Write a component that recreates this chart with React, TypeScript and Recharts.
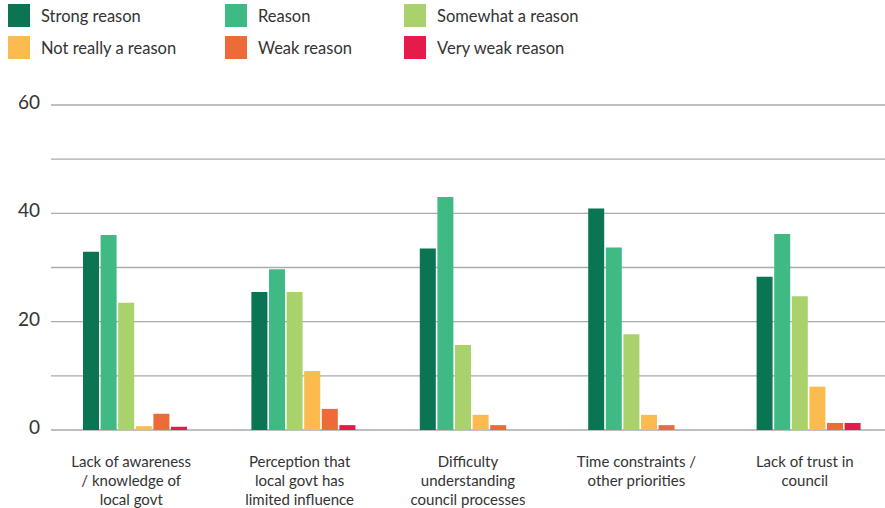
import { BarChart, Bar, XAxis, YAxis, CartesianGrid } from 'recharts';

const categories = [
  'Lack of awareness / knowledge of local govt',
  'Perception that local govt has limited influence',
  'Difficulty understanding council processes',
  'Time constraints / other priorities',
  'Lack of trust in council',
];

const categoryLines = [
  ['Lack of awareness', '/ knowledge of', 'local govt'],
  ['Perception that', 'local govt has', 'limited influence'],
  ['Difficulty', 'understanding', 'council processes'],
  ['Time constraints /', 'other priorities'],
  ['Lack of trust in', 'council'],
];

const seriesNames = [
  'Strong reason',
  'Reason',
  'Somewhat a reason',
  'Not really a reason',
  'Weak reason',
  'Very weak reason',
];

const seriesColors = ['#0b7452', '#3fba85', '#a9d26c', '#fbbb4f', '#ed6b38', '#e61b4b'];

const strongReason = [32.9, 25.5, 33.5, 40.9, 28.3];
const reason = [36.0, 29.7, 43.0, 33.7, 36.2];
const somewhatReason = [23.5, 25.5, 15.7, 17.7, 24.7];
const notReallyReason = [0.7, 10.9, 2.8, 2.8, 8.0];
const weakReason = [3.0, 3.9, 0.9, 0.9, 1.3];
const veryWeakReason = [0.6, 0.9, 0, 0, 1.3];

const yTicks = [0, 10, 20, 30, 40, 50, 60];
const yLabelled = [0, 20, 40, 60];

const seriesValues = [strongReason, reason, somewhatReason, notReallyReason, weakReason, veryWeakReason];

const data = categories.map((c, i) => {
  const row: any = { category: c, idx: i };
  seriesNames.forEach((s, j) => {
    row[s] = seriesValues[j][i];
  });
  return row;
});

const font = 'Lato, "Open Sans", sans-serif';

const XTick = (props: any) => {
  const { x, y, payload } = props;
  const lines = categoryLines[payload.index] || [payload.value];
  const cx = x - 4;
  return (
    <text x={cx} y={y} textAnchor="middle" fill="#333" fontSize={15} fontFamily={font}>
      {lines.map((l, i) => (
        <tspan key={i} x={cx} dy={i === 0 ? 36.5 : 19}>
          {l}
        </tspan>
      ))}
    </text>
  );
};

const YTick = (props: any) => {
  const { x, y, payload } = props;
  if (!yLabelled.includes(payload.value)) return null;
  return (
    <text x={x} y={y} dy={4} textAnchor="end" fill="#333" fontSize={19} fontFamily={font}>
      {payload.value}
    </text>
  );
};

function LegendBlock() {
  const cols = [8, 225, 404];
  return (
    <>
      {seriesNames.map((s, i) => {
        const col = i % 3;
        const row = Math.floor(i / 3);
        return (
          <div
            key={s}
            style={{
              position: 'absolute',
              left: cols[col],
              top: 4 + row * 32,
              display: 'flex',
              alignItems: 'center',
              fontFamily: font,
              fontSize: 16.5,
              color: '#333',
              whiteSpace: 'nowrap',
            }}
          >
            <span style={{ width: 22, height: 23, background: seriesColors[i], display: 'inline-block', marginRight: 11 }} />
            {s}
          </div>
        );
      })}
    </>
  );
}

export default function App() {
  return (
    <div style={{ position: 'fixed', left: 0, top: 0, width: 885, height: 508, overflow: 'hidden', background: '#fff' }}>
      <LegendBlock />
      <div style={{ position: 'absolute', left: 0, top: 0 }}>
        <BarChart
          width={900}
          height={508}
          data={data}
          margin={{ top: 105, right: 7, bottom: 0, left: 0 }}
          barSize={16}
          barGap={1.6}
        >
          <CartesianGrid vertical={false} stroke="#aaaaaa" strokeWidth={1.3} />
          <XAxis
            dataKey="category"
            axisLine={false}
            tickLine={false}
            tickSize={0}
            tickMargin={0}
            interval={0}
            tick={<XTick />}
            height={78}
          />
          <YAxis
            domain={[0, 60]}
            ticks={yTicks}
            axisLine={false}
            tickLine={false}
            tickSize={0}
            tickMargin={11}
            width={51}
            tick={<YTick />}
          />
          {seriesNames.map((s, i) => (
            <Bar key={s} dataKey={s} fill={seriesColors[i]} isAnimationActive={false} />
          ))}
        </BarChart>
      </div>
    </div>
  );
}
